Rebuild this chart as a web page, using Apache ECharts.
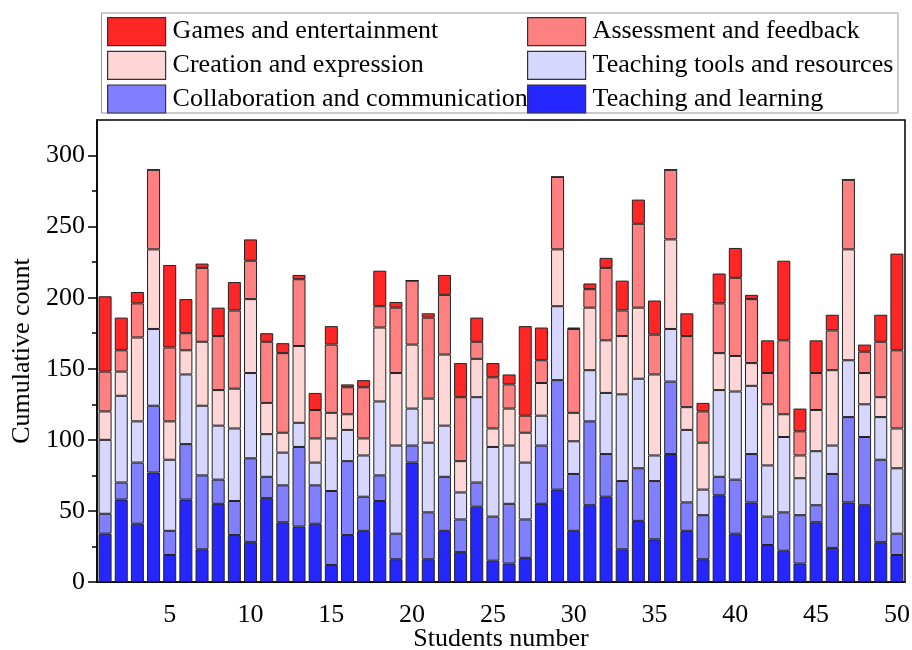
<!DOCTYPE html>
<html>
<head>
<meta charset="utf-8">
<script src="https://cdn.jsdelivr.net/npm/echarts@6/dist/echarts.min.js"></script>
<style>
  html, body { margin: 0; padding: 0; background: #fff; }
  #chart { width: 912px; height: 650px; }
</style>
</head>
<body>
<div id="chart"></div>
<script>
// Students 1..50
const students = Array.from({ length: 50 }, (_, i) => String(i + 1));

// Per-student counts for each usage category (stacked bottom to top)
const teachingLearning = [34,58,41,77,19,58,23,55,33,28,59,42,39,41,12,33,36,57,16,84,16,36,21,53,15,13,17,55,65,36,54,60,23,43,30,90,36,16,61,34,56,26,22,13,42,24,56,54,28,19];
const collaboration    = [14,12,43,47,17,39,52,17,24,59,15,26,56,27,52,52,24,18,18,12,33,38,23,17,31,42,27,41,77,40,59,30,48,37,41,51,20,31,13,38,34,20,27,34,12,52,60,48,58,15];
const toolsResources   = [52,61,29,54,50,49,49,38,51,60,30,23,17,16,37,22,29,52,62,26,49,36,19,60,49,41,40,21,52,23,36,43,61,63,18,37,51,18,61,62,48,36,53,26,38,20,40,23,30,46];
const creation         = [20,17,59,56,27,17,45,25,28,52,22,14,54,17,18,11,12,52,51,45,31,50,22,27,13,26,21,23,40,20,44,37,41,50,57,63,16,33,26,25,16,43,16,16,29,53,78,22,14,28];
const assessment       = [28,15,24,56,52,12,52,38,55,27,43,56,47,20,48,19,36,15,46,45,57,42,45,12,36,17,12,16,51,59,13,51,18,59,28,49,50,22,35,55,45,22,52,17,26,28,49,15,39,55];
const games            = [53,23,8,0,58,24,3,20,20,15,6,7,3,12,13,2,5,25,4,0,3,14,24,17,10,7,63,23,0,1,4,7,21,17,24,0,16,6,21,21,3,23,56,16,23,11,0,5,19,68];

const seriesNames = [
  'Teaching and learning',
  'Collaboration and communication',
  'Teaching tools and resources',
  'Creation and expression',
  'Assessment and feedback',
  'Games and entertainment'
];
const seriesData = [teachingLearning, collaboration, toolsResources, creation, assessment, games];
const seriesColors = ['#2626ff', '#8080ff', '#d6d6ff', '#ffd6d6', '#ff8080', '#ff2626'];

const yMajorTicks = [0, 50, 100, 150, 200, 250, 300];
const yMinorTicks = [25, 75, 125, 175, 225, 275];

const FONT = "'Liberation Serif', 'Times New Roman', serif";
const FS = 26;

const chart = echarts.init(document.getElementById('chart'), null, { renderer: 'canvas' });

const legendCommon = {
  orient: 'vertical',
  top: 17,
  padding: 0,
  itemWidth: 58,
  itemHeight: 28,
  itemGap: 4.5,
  icon: 'rect',
  selectedMode: false,
  itemStyle: { borderColor: '#333', borderWidth: 1.2 },
  textStyle: { fontFamily: FONT, fontSize: FS, color: '#000', lineHeight: 28, padding: [0, 0, 0, 2] }
};

const option = {
  backgroundColor: '#fff',
  animation: false,
  legend: [
    Object.assign({}, legendCommon, {
      left: 107,
      data: ['Games and entertainment', 'Creation and expression', 'Collaboration and communication']
    }),
    Object.assign({}, legendCommon, {
      left: 527,
      data: ['Assessment and feedback', 'Teaching tools and resources', 'Teaching and learning']
    })
  ],
  graphic: [{
    type: 'rect',
    shape: { x: 101.5, y: 13, width: 796.5, height: 100 },
    style: { fill: 'none', stroke: '#999', lineWidth: 1 },
    z: -1
  }],
  grid: {
    left: 97, right: 7, top: 120, bottom: 68,
    outerBoundsMode: 'none',
    containLabel: false,
    show: true,
    borderColor: '#000',
    borderWidth: 1.5,
    backgroundColor: 'transparent'
  },
  xAxis: [
    {
      // every student: short ticks
      type: 'category',
      position: 'bottom',
      data: students,
      axisLine: { lineStyle: { color: '#000', width: 1.5 } },
      axisTick: { alignWithLabel: true, interval: 0, length: 5, lineStyle: { color: '#000', width: 1.5 } },
      axisLabel: { show: false },
      splitLine: { show: false }
    },
    {
      // every fifth student: long ticks and labels
      type: 'category',
      position: 'bottom',
      data: students,
      name: 'Students number',
      nameLocation: 'middle',
      nameGap: 44,
      nameMoveOverlap: false,
      nameTextStyle: { fontFamily: FONT, fontSize: FS, color: '#000' },
      axisLine: { show: false },
      axisTick: {
        alignWithLabel: true,
        interval: (i) => (i + 1) % 5 === 0,
        length: 9,
        lineStyle: { color: '#000', width: 1.5 }
      },
      axisLabel: {
        interval: (i) => (i + 1) % 5 === 0,
        fontFamily: FONT, fontSize: FS, color: '#000',
        margin: 20
      },
      splitLine: { show: false }
    }
  ],
  yAxis: [
    {
      type: 'value',
      min: 0, max: 325,
      name: 'Cumulative count',
      nameLocation: 'middle',
      nameGap: 62,
      nameMoveOverlap: false,
      nameTextStyle: { fontFamily: FONT, fontSize: FS, color: '#000' },
      axisLine: { show: true, lineStyle: { color: '#000', width: 1.5 } },
      axisTick: { show: true, customValues: yMajorTicks, length: 9, lineStyle: { color: '#000', width: 1.5 } },
      axisLabel: { customValues: yMajorTicks, fontFamily: FONT, fontSize: FS, color: '#000', margin: 12 },
      splitLine: { show: false }
    },
    {
      // minor ticks between labelled values
      type: 'value',
      min: 0, max: 325,
      position: 'left',
      axisLine: { show: false },
      axisTick: { show: true, customValues: yMinorTicks, length: 5, lineStyle: { color: '#000', width: 1.5 } },
      axisLabel: { show: false },
      splitLine: { show: false }
    }
  ],
  series: seriesNames.map((name, k) => ({
    name: name,
    type: 'bar',
    stack: 'total',
    xAxisIndex: 0,
    yAxisIndex: 0,
    barWidth: 13,
    data: seriesData[k],
    itemStyle: { color: seriesColors[k], borderColor: '#222', borderWidth: 1 },
    emphasis: { disabled: true }
  }))
};

chart.setOption(option);
</script>
</body>
</html>
